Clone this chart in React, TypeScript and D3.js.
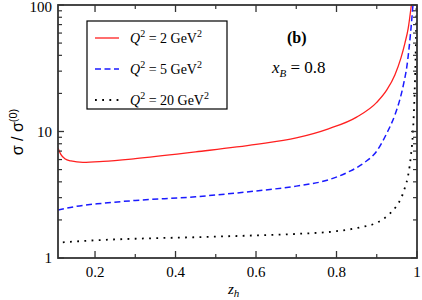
import * as d3 from "d3";
import React from "react";

const zRed = [0.108, 0.115, 0.125, 0.14, 0.17, 0.22, 0.3, 0.45, 0.6, 0.7, 0.78, 0.85, 0.9, 0.925, 0.945, 0.96, 0.97, 0.978, 0.986];
const vRed = [7.4, 6.6, 6.1, 5.85, 5.7, 5.8, 6.1, 6.9, 7.9, 8.9, 10.5, 13, 17, 21.3, 28, 38, 50, 65, 100];

const zBlue = [0.108, 0.15, 0.22, 0.3, 0.45, 0.6, 0.7, 0.78, 0.83, 0.87, 0.9, 0.925, 0.945, 0.957, 0.967, 0.975, 0.984, 0.99];
const vBlue = [2.39, 2.55, 2.71, 2.85, 3.05, 3.39, 3.7, 4.15, 4.8, 5.7, 7, 9.7, 13.5, 17.7, 24, 33, 60, 100];

const zBlack = [0.12, 0.2, 0.3, 0.45, 0.6, 0.7, 0.8, 0.86, 0.9, 0.93, 0.95, 0.96, 0.97, 0.978, 0.985, 0.99, 0.994, 0.997, 0.999];
const vBlack = [1.33, 1.38, 1.42, 1.46, 1.51, 1.55, 1.63, 1.75, 1.9, 2.2, 2.6, 2.95, 3.6, 4.5, 6.5, 10, 20, 45, 100];

const xMajor = [0.2, 0.4, 0.6, 0.8, 1];
const xMinor = [0.3, 0.5, 0.7, 0.9];
const yMajor = [1, 10, 100];
const legendQ = ["2", "5", "20"];

const W = 422, H = 300;
const L = 58, R = 417, T = 5, B = 258;
const serif = { fontFamily: "'Liberation Serif', 'DejaVu Serif', serif" };

const App = () => {
  const x = d3.scaleLinear().domain([0.108, 1]).range([L, R]);
  const y = d3.scaleLog().domain([1, 100]).range([B, T]);

  const line = d3.line<[number, number]>()
    .x((d) => x(d[0]))
    .y((d) => y(d[1]))
    .curve(d3.curveMonotoneX);

  const series = [
    { z: zRed, v: vRed, color: "#ff2020", dash: null, w: 1.3 },
    { z: zBlue, v: vBlue, color: "#1a1aff", dash: "6 3.5", w: 1.5 },
    { z: zBlack, v: vBlack, color: "#000", dash: "1.8 5.4", w: 1.8 },
  ];

  const yMinor: number[] = [];
  [1, 10].forEach((d) => { for (let k = 2; k < 10; k++) yMinor.push(d * k); });

  const axisColor = "#333";

  return (
    <svg width={W} height={H} style={{ position: "absolute", left: 0, top: 0, background: "#fff" }}>
      <defs>
        <clipPath id="plot">
          <rect x={L} y={T} width={R - L} height={B - T} />
        </clipPath>
      </defs>

      <g clipPath="url(#plot)">
        {series.map((s, i) => (
          <path
            key={i}
            d={line(s.z.map((z, j) => [z, s.v[j]]))}
            fill="none"
            stroke={s.color}
            strokeWidth={s.w}
            strokeDasharray={s.dash || undefined}
          />
        ))}
      </g>

      {/* ticks */}
      {xMajor.map((t) => (
        <g key={"xm" + t}>
          <line x1={x(t)} x2={x(t)} y1={B} y2={B - 7} stroke={axisColor} strokeWidth={1.3} />
          <line x1={x(t)} x2={x(t)} y1={T} y2={T + 7} stroke={axisColor} strokeWidth={1.3} />
          <text x={x(t)} y={277} textAnchor="middle" style={serif} fontSize={15}>{t}</text>
        </g>
      ))}
      {xMinor.map((t) => (
        <g key={"xn" + t}>
          <line x1={x(t)} x2={x(t)} y1={B} y2={B - 4} stroke={axisColor} strokeWidth={1.2} />
          <line x1={x(t)} x2={x(t)} y1={T} y2={T + 4} stroke={axisColor} strokeWidth={1.2} />
        </g>
      ))}
      {yMajor.map((t) => (
        <g key={"ym" + t}>
          <line x1={L} x2={L + 6} y1={y(t)} y2={y(t)} stroke={axisColor} strokeWidth={1.3} />
          <line x1={R} x2={R - 6} y1={y(t)} y2={y(t)} stroke={axisColor} strokeWidth={1.3} />
          <text x={52} y={Math.max(y(t) + 5, 12)} textAnchor="end" style={serif} fontSize={15}>{t}</text>
        </g>
      ))}
      {yMinor.map((t) => (
        <g key={"yn" + t}>
          <line x1={L} x2={L + 4} y1={y(t)} y2={y(t)} stroke={axisColor} strokeWidth={1.2} />
          <line x1={R} x2={R - 4} y1={y(t)} y2={y(t)} stroke={axisColor} strokeWidth={1.2} />
        </g>
      ))}

      <rect x={L} y={T} width={R - L} height={B - T} fill="none" stroke={axisColor} strokeWidth={1.8} />

      {/* legend */}
      <rect x={87} y={21} width={140} height={88} fill="#fff" stroke="#000" strokeWidth={1.2} />
      {series.map((s, i) => {
        const ly = 38 + i * 31;
        return (
          <g key={"lg" + i}>
            <line x1={95} x2={119} y1={ly} y2={ly} stroke={s.color} strokeWidth={s.w}
              strokeDasharray={s.dash || undefined} />
            <text x={130} y={ly + 5} style={serif} fontSize={14}>
              <tspan fontStyle="italic">Q</tspan>
              <tspan dy={-6} fontSize={10}>2</tspan>
              <tspan dy={6}>{" = " + legendQ[i] + " GeV"}</tspan>
              <tspan dy={-6} fontSize={10}>2</tspan>
            </text>
          </g>
        );
      })}

      <text x={287} y={43} style={serif} fontSize={16} fontWeight="bold">(b)</text>
      <text x={272} y={73} style={serif} fontSize={17}>
        <tspan fontStyle="italic">x</tspan>
        <tspan dy={4} fontSize={11} fontStyle="italic">B</tspan>
        <tspan dy={-4}> = 0.8</tspan>
      </text>

      <text x={228} y={294} style={serif} fontSize={15}>
        <tspan fontStyle="italic">z</tspan>
        <tspan dy={3} fontSize={11} fontStyle="italic">h</tspan>
      </text>

      <text transform="translate(23,132) rotate(-90)" textAnchor="middle"
        style={{ fontFamily: "'Liberation Sans', Arial, sans-serif" }} fontSize={16}>
        <tspan>σ / σ</tspan>
        <tspan dy={-6} fontSize={11}>(0)</tspan>
      </text>
    </svg>
  );
};

export default App;
